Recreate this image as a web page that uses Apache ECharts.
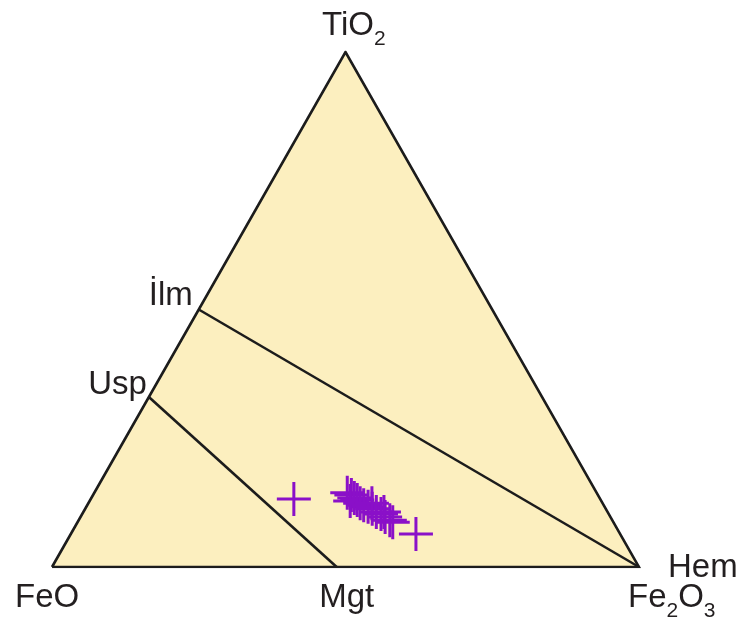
<!DOCTYPE html>
<html>
<head>
<meta charset="utf-8">
<script src="https://cdn.jsdelivr.net/npm/echarts@6/dist/echarts.min.js"></script>
<style>
  html, body { margin: 0; padding: 0; background: #ffffff; }
  #chart { width: 748px; height: 617px; }
</style>
</head>
<body>
<div id="chart"></div>
<script>
// End members of the ternary, each as [TiO2, FeO, Fe2O3] in mole %
const vertexTiO2  = [100, 0, 0];
const vertexFeO   = [0, 100, 0];
const vertexFe2O3 = [0, 0, 100];

// Solid-solution joins: ilmenite–hematite and ulvöspinel–magnetite
const ilmHemJoin = [[50, 50, 0], [0, 0, 100]];
const uspMgtJoin = [[33, 67, 0], [0, 51.5, 48.5]];

// Fe–Ti oxide analyses (mole %)
const tio2  = [13.2, 14.4, 14.0, 13.4, 12.8, 13.0, 12.4, 12.0, 11.7, 11.3, 10.7, 10.3, 9.7, 9.1, 8.7, 6.4, 12.4, 10.7];
const feo   = [52.2, 42.5, 42.0, 41.8, 42.8, 41.5, 41.3, 40.9, 40.3, 39.8, 39.4, 38.8, 38.4, 37.9, 37.6, 34.8, 39.3, 38.1];
const fe2o3 = [34.6, 43.1, 44.0, 44.8, 44.4, 45.5, 46.3, 47.1, 48.0, 48.9, 49.9, 50.9, 51.9, 53.0, 53.7, 58.8, 48.3, 51.2];

// Corner and mineral labels, anchored at their compositions
const labelTexts = ['{n|TiO}{s|2}', '{n|İlm}', '{n|Usp}', '{n|FeO}', '{n|Mgt}', '{n|Fe}{s|2}{n|O}{s|3}', '{n|Hem}'];
const labelComps = [[100, 0, 0], [50, 50, 0], [33, 67, 0], [0, 100, 0], [0, 51.5, 48.5], [0, 0, 100], [0, 0, 100]];

// Label placement (pixels relative to the anchor) and alignment
const labelLayout = [
  { offset: [-23.5, -26], align: 'left' },
  { offset: [-6, -13.5], align: 'right' },
  { offset: [-2, -12], align: 'right' },
  { offset: [-37, 31], align: 'left' },
  { offset: [10, 31], align: 'center' },
  { offset: [-11, 31], align: 'left' },
  { offset: [29, 1], align: 'left' }
];

const H = Math.sqrt(3) / 2;

// Ternary composition -> cartesian point (FeO at origin, Fe2O3 at (1,0), TiO2 at apex)
function toXY(c) {
  const sum = c[0] + c[1] + c[2];
  const t = c[0] / sum, h = c[2] / sum;
  return [h + t / 2, t * H];
}

const triangle = [vertexFeO, vertexFe2O3, vertexTiO2].map(toXY);
const samplePoints = tio2.map((t, i) => toXY([t, feo[i], fe2o3[i]]));

const lineColor = '#1c1c1c';
const textColor = '#231f20';
const crossPath = 'path://M-1.5,-17 L1.5,-17 L1.5,-1.5 L17,-1.5 L17,1.5 L1.5,1.5 L1.5,17 L-1.5,17 L-1.5,1.5 L-17,1.5 L-17,-1.5 L-1.5,-1.5 Z';

const rich = {
  n: { fontFamily: 'Liberation Sans', fontSize: 33, lineHeight: 48, color: textColor },
  s: { fontFamily: 'Liberation Sans', fontSize: 21, verticalAlign: 'bottom', color: textColor }
};

const labelData = labelComps.map((c, i) => ({
  value: toXY(c),
  label: {
    show: true,
    position: 'inside',
    offset: labelLayout[i].offset,
    align: labelLayout[i].align,
    verticalAlign: 'middle',
    formatter: labelTexts[i],
    color: textColor,
    opacity: 1,
    rich: rich
  }
}));

const chart = echarts.init(document.getElementById('chart'), null, { renderer: 'canvas' });

chart.setOption({
  animation: false,
  backgroundColor: '#ffffff',
  grid: { left: 52, right: 109, top: 52, bottom: 50, outerBoundsMode: 'none' },
  xAxis: { type: 'value', min: 0, max: 1, show: false },
  yAxis: { type: 'value', min: 0, max: H, show: false },
  series: [
    {
      // filled diagram field
      type: 'custom',
      coordinateSystem: 'cartesian2d',
      data: [0],
      silent: true,
      z: 1,
      renderItem: function (params, api) {
        return {
          type: 'polygon',
          shape: { points: triangle.map(p => api.coord(p)) },
          style: { fill: '#fcefbf', stroke: null }
        };
      }
    },
    {
      type: 'line',
      data: ilmHemJoin.map(toXY),
      symbol: 'none',
      lineStyle: { color: lineColor, width: 2.6 },
      silent: true,
      z: 2
    },
    {
      type: 'line',
      data: uspMgtJoin.map(toXY),
      symbol: 'none',
      lineStyle: { color: lineColor, width: 2.6 },
      silent: true,
      z: 2
    },
    {
      type: 'line',
      data: triangle.concat([triangle[0]]),
      symbol: 'none',
      lineStyle: { color: lineColor, width: 2.6, join: 'miter' },
      silent: true,
      z: 3
    },
    {
      type: 'scatter',
      data: samplePoints,
      symbol: crossPath,
      symbolSize: 34,
      itemStyle: { color: '#8a10c8', opacity: 1 },
      silent: true,
      z: 4
    },
    {
      type: 'scatter',
      data: labelData,
      symbolSize: 1,
      itemStyle: { color: 'rgba(0,0,0,0)', opacity: 1 },
      silent: true,
      z: 5
    }
  ]
});
</script>
</body>
</html>
